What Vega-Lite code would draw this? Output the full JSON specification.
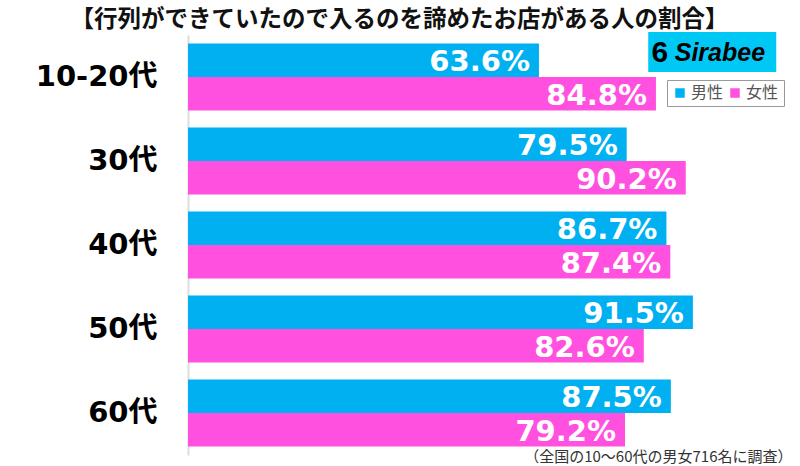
{
  "$schema": "https://vega.github.io/schema/vega-lite/v6.json",
  "autosize": "none",
  "width": 607,
  "height": 420,
  "padding": {"left": 188, "top": 35, "right": 5, "bottom": 11},
  "background": "white",
  "title": {
    "text": "【行列ができていたので入るのを諦めたお店がある人の割合】",
    "font": "Noto Sans CJK JP",
    "fontSize": 23.5,
    "fontWeight": "bold",
    "color": "#111",
    "anchor": "middle",
    "frame": "group",
    "dx": -92,
    "offset": 1
  },
  "config": {
    "view": {"stroke": null},
    "font": "Noto Sans CJK JP"
  },
  "layer": [
    {
      "data": {
        "values": [
          {"age": "10-20代", "gender": "男性", "value": 0.636},
          {"age": "10-20代", "gender": "女性", "value": 0.848},
          {"age": "30代", "gender": "男性", "value": 0.795},
          {"age": "30代", "gender": "女性", "value": 0.902},
          {"age": "40代", "gender": "男性", "value": 0.867},
          {"age": "40代", "gender": "女性", "value": 0.874},
          {"age": "50代", "gender": "男性", "value": 0.915},
          {"age": "50代", "gender": "女性", "value": 0.826},
          {"age": "60代", "gender": "男性", "value": 0.875},
          {"age": "60代", "gender": "女性", "value": 0.792}
        ]
      },
      "encoding": {
        "y": {
          "field": "age", "type": "nominal", "sort": null,
          "scale": {"paddingInner": 0.2, "paddingOuter": 0.1},
          "axis": {
            "title": null, "ticks": false, "domainColor": "#dddddd", "domainWidth": 2,
            "labelFont": "DejaVu Sans, Noto Sans CJK JP", "labelFontSize": 29,
            "labelFontWeight": "bold", "labelColor": "#000", "labelPadding": 31
          }
        },
        "yOffset": {
          "field": "gender", "type": "nominal", "sort": ["男性", "女性"],
          "scale": {"paddingInner": 0, "paddingOuter": 0}
        },
        "x": {
          "field": "value", "type": "quantitative",
          "scale": {"domain": [0, 1.1], "nice": false},
          "axis": {
            "title": "（全国の10～60代の男女716名に調査）",
            "titleFont": "Noto Sans CJK JP", "titleFontSize": 15, "titleFontWeight": "normal",
            "titleColor": "#333", "titleAnchor": "start", "titleAlign": "right",
            "titleX": 604, "titleY": 6, "titleBaseline": "alphabetic",
            "labels": false, "ticks": false, "domain": false, "grid": false
          }
        }
      },
      "layer": [
        {
          "mark": {"type": "bar"},
          "encoding": {
            "color": {
              "field": "gender", "type": "nominal",
              "scale": {"domain": ["男性", "女性"], "range": ["#00b0f0", "#ff50e0"]},
              "legend": {
                "title": null, "orient": "none", "legendX": 479, "legendY": 45,
                "direction": "horizontal", "symbolType": "square", "symbolSize": 90,
                "labelFont": "Noto Sans CJK JP", "labelFontSize": 16, "labelColor": "#555",
                "strokeColor": "#999", "padding": 5, "columnPadding": 3, "labelOffset": 3
              }
            }
          }
        },
        {
          "mark": {
            "type": "text", "align": "right", "baseline": "middle", "dx": -9, "dy": 2,
            "font": "DejaVu Sans", "fontSize": 29, "fontWeight": "bold", "color": "white"
          },
          "encoding": {
            "text": {"field": "value", "type": "quantitative", "format": ".1%"}
          }
        }
      ]
    },
    {
      "data": {"values": [{"logo": "Sirabee", "icon": "6"}]},
      "layer": [
        {
          "mark": {"type": "rect", "color": "#00c8f5"},
          "encoding": {
            "x": {"datum": 0.834, "type": "quantitative"},
            "x2": {"datum": 1.066},
            "y": {"value": -3},
            "y2": {"value": 37}
          }
        },
        {
          "mark": {
            "type": "text", "align": "left", "baseline": "middle", "font": "Liberation Sans",
            "fontSize": 25, "fontWeight": "bold", "fontStyle": "italic", "color": "#000"
          },
          "encoding": {
            "x": {"datum": 0.882, "type": "quantitative"},
            "y": {"value": 18},
            "text": {"field": "logo"}
          }
        },
        {
          "mark": {
            "type": "text", "align": "center", "baseline": "middle", "font": "Liberation Sans",
            "fontSize": 30, "fontWeight": "bold", "color": "#000"
          },
          "encoding": {
            "x": {"datum": 0.855, "type": "quantitative"},
            "y": {"value": 18},
            "text": {"field": "icon"}
          }
        }
      ]
    }
  ]
}
